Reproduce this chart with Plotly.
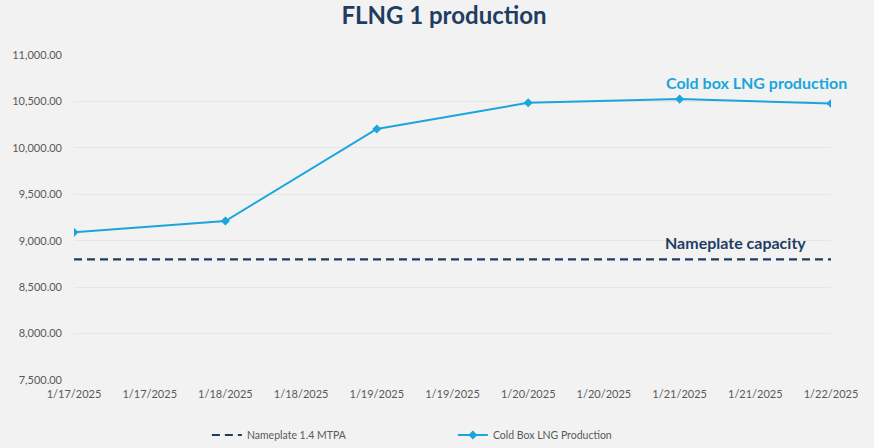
import plotly.graph_objects as go

dates = ["2025-01-17", "2025-01-18", "2025-01-19", "2025-01-20", "2025-01-21", "2025-01-22"]
production = [9090, 9212, 10203, 10485, 10525, 10478]
nameplate = [8800, 8800, 8800, 8800, 8800, 8800]

NAVY = "#1f3d63"
CYAN = "#1aa6dc"
FONT = "Lato"

fig = go.Figure()
fig.add_trace(go.Scatter(
    x=dates, y=nameplate, name="Nameplate 1.4 MTPA", mode="lines",
    line=dict(color=NAVY, width=2.2, dash="8px,5px"), hoverinfo="skip"))
fig.add_trace(go.Scatter(
    x=dates, y=production, name="Cold Box LNG Production", mode="lines+markers",
    line=dict(color=CYAN, width=2), marker=dict(symbol="diamond", size=7, color=CYAN)))

fig.add_annotation(x=dates[4], y=10707, text="<b>Cold box LNG production</b>", showarrow=False,
                   xshift=77, font=dict(family=FONT, size=16, color=CYAN))
fig.add_annotation(x=dates[4], y=8986, text="<b>Nameplate capacity</b>", showarrow=False,
                   xshift=56, font=dict(family=FONT, size=16, color=NAVY))

fig.update_layout(
    width=874, height=448,
    paper_bgcolor="#f2f2f2", plot_bgcolor="#f2f2f2",
    margin=dict(l=74, r=43, t=55, b=68),
    title=dict(text="<b>FLNG 1 production</b>", x=0.508, xanchor="center", y=0.966, yanchor="middle",
               font=dict(family=FONT, size=24, color=NAVY)),
    font=dict(family=FONT, color="#595959", size=11),
    showlegend=True,
    legend=dict(orientation="h", x=0.5005, xanchor="center", yref="container", y=0.029,
                yanchor="middle", entrywidth=201,
                font=dict(family=FONT, size=10.5, color="#595959"),
                bgcolor="rgba(0,0,0,0)"),
    xaxis=dict(type="date", range=["2025-01-17", "2025-01-22"], dtick=43200000,
               tick0="2025-01-17", tickformat="%-m/%-d/%Y", showgrid=False, zeroline=False,
               ticks="", tickfont=dict(size=11, color="#595959"), showline=False,
               automargin=False, ticklabelstandoff=6),
    yaxis=dict(range=[7500, 11000], dtick=500, tickformat=",.2f", showgrid=True,
               gridcolor="#e6e6e6", gridwidth=1, zeroline=False, ticks="",
               tickfont=dict(size=11, color="#595959"), ticklabelstandoff=11,
               automargin=False),
)

fig.write_html("out.html", config={"displayModeBar": False},
               post_script="document.body.style.margin='0';")
